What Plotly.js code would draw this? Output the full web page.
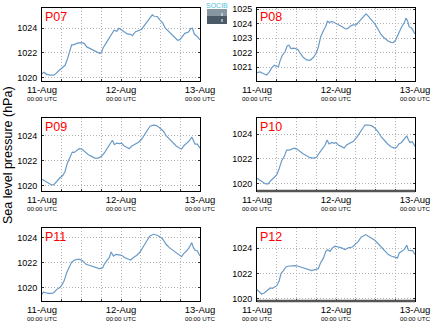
<!DOCTYPE html>
<html><head><meta charset="utf-8">
<script src="https://cdn.plot.ly/plotly-3.0.1.min.js"></script>
<style>html,body{margin:0;padding:0;background:#fff}#chart{width:434px;height:327px}</style>
</head><body><div id="chart"></div>
<script>
// ---- data (hours after 11-Aug 00:00 UTC, sea level pressure hPa) ----
const dayTicks = ['2015-08-11 00:00', '2015-08-12 00:00', '2015-08-13 00:00'];
const dayLabels = ['11-Aug', '12-Aug', '13-Aug'];
const timeLabel = '00:00 UTC';
const stations = ['P07', 'P08', 'P09', 'P10', 'P11', 'P12'];

const hoursP07 = [0,0.6,1.4,2.4,3.4,3.9,5.0,6.0,7.0,7.7,8.5,9.0,9.5,10.3,11.0,12.1,12.8,13.6,14.6,15.6,16.6,17.6,18.1,18.6,19.4,20.2,21.2,21.9,22.7,23.4,24.2,25.2,25.9,26.9,27.5,28.3,29.3,30.3,31.0,31.8,32.8,33.5,34.1,35.0,35.8,36.7,37.4,38.4,39.4,40.4,41.2,41.9,42.7,43.4,44.5,45.2,45.7,46.3,47.0,48];
const pressureP07 = [1020.32,1020.43,1020.27,1020.2,1020.2,1020.25,1020.54,1020.76,1021.0,1021.49,1022.3,1022.65,1022.65,1022.76,1022.81,1022.84,1022.78,1022.49,1022.35,1022.24,1022.1,1021.95,1022.08,1022.43,1022.78,1023.1,1023.51,1023.84,1023.76,1024.0,1023.86,1023.68,1023.54,1023.51,1023.4,1023.7,1023.81,1023.92,1024.19,1024.51,1024.86,1025.08,1024.97,1024.95,1024.68,1024.41,1024.03,1023.76,1023.46,1023.19,1023.03,1023.08,1023.32,1023.59,1023.7,1023.97,1024.0,1023.51,1023.38,1023.05];

const hoursP08 = [0,0.9,1.9,2.9,3.6,4.5,5.3,6.0,6.5,7.0,7.7,8.5,9.2,9.7,10.3,11.3,12.4,13.1,14.1,15.1,16.1,17.1,17.9,18.6,19.3,20.2,20.9,21.4,21.9,22.9,23.9,24.9,25.9,26.9,27.5,28.3,29.1,30.1,30.8,31.6,32.3,33.1,33.8,34.8,35.8,36.9,37.7,38.7,39.7,40.7,41.4,42.1,42.9,43.9,44.8,45.3,45.8,46.2,47.0,48];
const pressureP08 = [1020.63,1020.68,1020.58,1020.47,1020.63,1020.98,1021.14,1021.09,1021.02,1021.44,1021.83,1022.06,1022.48,1022.52,1022.29,1022.32,1022.22,1021.97,1021.67,1021.51,1021.48,1021.67,1021.95,1022.36,1023.06,1023.52,1023.82,1024.16,1024.09,1024.14,1024.03,1023.91,1023.79,1023.63,1023.65,1023.82,1023.91,1023.91,1024.09,1024.33,1024.44,1024.67,1024.51,1024.28,1023.98,1023.56,1023.24,1023.01,1022.82,1022.71,1022.69,1022.87,1023.29,1023.75,1024.09,1024.39,1024.14,1023.79,1023.68,1023.29];

const hoursP09 = [0,0.9,1.9,2.9,3.6,4.3,5.3,6.3,7.0,7.7,8.5,9.2,9.8,10.5,11.3,12.1,13.1,14.1,15.1,16.1,17.1,18.1,19.1,20.2,20.9,21.4,22.0,22.7,23.4,24.2,24.9,25.7,26.5,27.2,28.3,29.3,30.3,31.0,31.8,32.8,33.8,34.8,35.8,36.9,37.7,38.7,39.7,40.7,41.7,42.4,43.1,43.9,44.8,45.5,46.0,46.5,47.2,48];
const pressureP09 = [1020.53,1020.4,1020.21,1020.08,1020.1,1020.35,1020.61,1020.83,1021.15,1021.81,1022.35,1022.69,1022.67,1022.8,1022.96,1022.93,1022.69,1022.48,1022.35,1022.21,1022.21,1022.35,1022.69,1023.15,1023.36,1023.63,1023.28,1023.41,1023.36,1023.41,1023.2,1023.09,1022.96,1023.15,1023.33,1023.47,1023.73,1024.03,1024.43,1024.75,1024.83,1024.8,1024.61,1024.35,1024.0,1023.73,1023.47,1023.2,1023.01,1022.93,1023.2,1023.41,1023.6,1023.89,1023.63,1023.33,1023.33,1023.01];

const hoursP10 = [0,0.9,1.9,2.6,3.4,3.9,5.0,6.0,6.7,7.5,8.3,9.0,9.8,10.5,11.3,12.1,13.1,14.1,15.1,16.1,17.1,18.1,18.9,20.0,20.7,21.3,21.9,22.7,23.4,24.0,24.7,25.5,26.5,27.2,28.3,29.3,30.3,31.0,31.8,32.8,33.8,34.8,35.8,36.9,37.7,38.7,39.7,40.7,41.7,42.4,43.1,43.9,44.7,45.5,46.0,46.5,47.2,48];
const pressureP10 = [1020.41,1020.27,1020.08,1019.95,1019.95,1020.14,1020.43,1020.68,1021.16,1021.84,1022.19,1022.7,1022.7,1022.78,1022.86,1022.78,1022.57,1022.38,1022.24,1022.08,1022.05,1022.11,1022.46,1022.92,1023.11,1023.51,1023.19,1023.32,1023.24,1023.32,1023.11,1023.0,1022.86,1023.11,1023.27,1023.41,1023.73,1024.0,1024.41,1024.73,1024.73,1024.68,1024.49,1024.14,1023.78,1023.46,1023.19,1022.97,1022.86,1022.92,1023.19,1023.32,1023.59,1023.86,1023.51,1023.32,1023.38,1023.0];

const hoursP11 = [0,0.4,1.2,1.9,2.9,3.6,4.5,5.3,6.0,6.7,7.5,8.3,9.0,9.8,10.7,11.5,12.4,13.4,14.4,15.4,16.4,17.4,18.4,18.9,19.6,20.4,21.0,21.7,22.5,23.4,24.2,25.2,26.2,26.9,27.7,28.8,29.8,30.8,31.8,32.8,33.8,34.8,35.8,36.7,37.7,38.7,39.7,40.7,41.7,42.4,43.1,43.9,44.7,45.5,46.0,46.5,47.2,48];
const pressureP11 = [1019.47,1019.65,1019.6,1019.55,1019.55,1019.6,1019.87,1020.0,1020.19,1020.53,1021.2,1021.6,1022.05,1022.19,1022.27,1022.27,1022.13,1021.87,1021.79,1021.68,1021.57,1021.52,1021.57,1021.87,1022.13,1022.4,1022.85,1022.53,1022.67,1022.61,1022.59,1022.4,1022.27,1022.21,1022.4,1022.59,1022.85,1023.33,1023.73,1024.13,1024.27,1024.21,1024.08,1023.87,1023.47,1023.2,1023.01,1022.85,1022.59,1022.48,1022.75,1022.93,1023.2,1023.6,1023.2,1023.01,1022.93,1022.53];

const hoursP12 = [0,0.6,1.4,2.2,3.0,4.0,4.7,5.3,6.0,6.7,7.3,8.0,8.8,9.5,10.5,11.5,12.6,13.6,14.6,15.6,16.6,17.6,18.6,19.3,20.2,20.9,21.5,22.2,22.9,23.7,24.7,25.7,26.7,27.7,29.0,29.8,30.8,31.6,32.3,33.1,33.8,34.8,35.8,36.9,37.9,38.9,39.9,40.9,41.9,42.7,43.2,43.9,44.7,45.5,46.0,46.6,47.2,48];
const pressureP12 = [1020.74,1020.55,1020.39,1020.47,1020.66,1020.87,1020.84,1020.95,1021.05,1021.39,1022.0,1022.24,1022.53,1022.58,1022.6,1022.63,1022.58,1022.5,1022.39,1022.32,1022.24,1022.32,1022.39,1022.84,1023.24,1023.76,1023.89,1023.76,1024.03,1024.16,1024.1,1024.03,1023.89,1024.03,1024.1,1024.29,1024.55,1024.87,1025.0,1025.08,1024.95,1024.82,1024.63,1024.34,1024.03,1023.76,1023.5,1023.37,1023.29,1023.24,1023.63,1023.76,1023.89,1024.24,1023.84,1023.82,1023.84,1023.5];

const hoursAll = [hoursP07, hoursP08, hoursP09, hoursP10, hoursP11, hoursP12];
const pressureAll = [pressureP07, pressureP08, pressureP09, pressureP10, pressureP11, pressureP12];

// ---- layout helpers ----
const W = 434, H = 327;
const base = Date.UTC(2015, 7, 11);
function toDate(h) {
  return new Date(base + Math.round(h * 3600000)).toISOString().slice(0, 19).replace('T', ' ');
}
const colPx = [[42, 200], [257, 415]];
const rowPx = [[8, 81], [118, 191], [228, 301]];
const yRanges = [[1019.73, 1025.64], [1020.06, 1025.07], [1019.6, 1025.4], [1019.38, 1025.3], [1018.94, 1024.77], [1019.84, 1025.6]];
const yDticks = [2, 1, 2, 2, 2, 2];
const FONT = 'Liberation Sans, Arial, Helvetica, sans-serif';
const GRID = '#b4b4b4';
const GRIDDASH = '1px,2px';

const data = [];
const layout = {
  width: W, height: H,
  margin: {l: 0, r: 0, t: 0, b: 0},
  paper_bgcolor: '#ffffff', plot_bgcolor: '#ffffff',
  showlegend: false,
  font: {family: FONT, color: '#000', size: 9},
  annotations: [], shapes: []
};

stations.forEach((name, i) => {
  const r = Math.floor(i / 2), c = i % 2;
  const sfx = i === 0 ? '' : String(i + 1);
  const xa = 'x' + sfx, ya = 'y' + sfx;
  data.push({
    type: 'scatter', mode: 'lines',
    x: hoursAll[i].map(toDate), y: pressureAll[i],
    xaxis: xa, yaxis: ya,
    line: {color: '#6a9bc8', width: 1.2},
    hoverinfo: 'skip'
  });
  layout['xaxis' + sfx] = {
    type: 'date', anchor: ya,
    domain: [colPx[c][0] / W, colPx[c][1] / W],
    range: [dayTicks[0], dayTicks[2]],
    tickmode: 'array', tickvals: dayTicks, ticktext: dayLabels,
    tickfont: {size: 9.5, family: FONT, color: '#000'},
    ticks: 'inside', ticklen: 0, tickcolor: '#333',
    showgrid: false, zeroline: false,
    showline: true, linecolor: '#000', linewidth: 1, mirror: true,
    minor: {dtick: 6 * 3600000, tick0: dayTicks[0], showgrid: true, gridcolor: GRID, griddash: GRIDDASH, gridwidth: 1, ticks: 'inside', ticklen: 2, tickcolor: '#333'},
    fixedrange: true
  };
  layout['yaxis' + sfx] = {
    anchor: xa,
    domain: [1 - rowPx[r][1] / H, 1 - rowPx[r][0] / H],
    range: yRanges[i], dtick: yDticks[i], tick0: 1020,
    tickformat: 'd',
    tickfont: {size: 9, family: FONT, color: '#000'},
    ticks: 'inside', ticklen: 2, tickcolor: '#333',
    showgrid: true, gridcolor: GRID, griddash: GRIDDASH, gridwidth: 1,
    zeroline: false,
    showline: true, linecolor: '#000', linewidth: 1, mirror: 'ticks',
    ticklabelstandoff: 2,
    fixedrange: true
  };
  // station label
  layout.annotations.push({
    text: name, xref: xa + ' domain', yref: ya + ' domain', x: 0, y: 1,
    xanchor: 'left', yanchor: 'top', xshift: 1, yshift: 0, showarrow: false,
    font: {size: 12.5, color: '#ff0000', family: FONT}
  });
  // second line of x tick labels
  dayTicks.forEach(t => {
    layout.annotations.push({
      text: timeLabel, xref: xa, yref: ya + ' domain', x: t, y: 0,
      xanchor: 'center', yanchor: 'middle', yshift: -17.7, showarrow: false,
      font: {size: 6.2, color: '#000', family: FONT}
    });
  });
  if (name === 'P10' || name === 'P12') {
    layout.shapes.push({type: 'line', xref: xa + ' domain', yref: ya + ' domain', x0: 0, x1: 1, y0: 0, y1: 0,
      yshift: 0, line: {color: '#555', width: 2.5}});
  }
});

// y axis title
layout.annotations.push({
  text: 'Sea level pressure (hPa)', xref: 'paper', yref: 'paper',
  x: 8 / W, y: 1 - 155 / H, xanchor: 'center', yanchor: 'middle', textangle: -90,
  showarrow: false, font: {size: 12.5, color: '#000', family: FONT}
});
// logo
layout.shapes.push({type: 'rect', xref: 'paper', yref: 'paper', x0: 207 / W, x1: 227 / W, y0: 1 - 16 / H, y1: 1 - 9 / H, line: {width: 0}, fillcolor: '#8797a2'});
layout.shapes.push({type: 'rect', xref: 'paper', yref: 'paper', x0: 207 / W, x1: 227 / W, y0: 1 - 24 / H, y1: 1 - 16 / H, line: {width: 0}, fillcolor: '#4a5a66'});
layout.shapes.push({type: 'line', xref: 'paper', yref: 'paper', x0: 222 / W, x1: 222 / W, y0: 1 - 22 / H, y1: 1 - 12 / H, line: {width: 1, color: '#ffffff', dash: 'dot'}});
layout.annotations.push({
  text: 'SOCIB', xref: 'paper', yref: 'paper', x: 217 / W, y: 1 - 5.5 / H,
  xanchor: 'center', yanchor: 'middle', showarrow: false,
  font: {size: 7, color: '#4fc3dc', family: FONT}
});

Plotly.newPlot('chart', data, layout, {displayModeBar: false, staticPlot: true});
</script></body></html>
